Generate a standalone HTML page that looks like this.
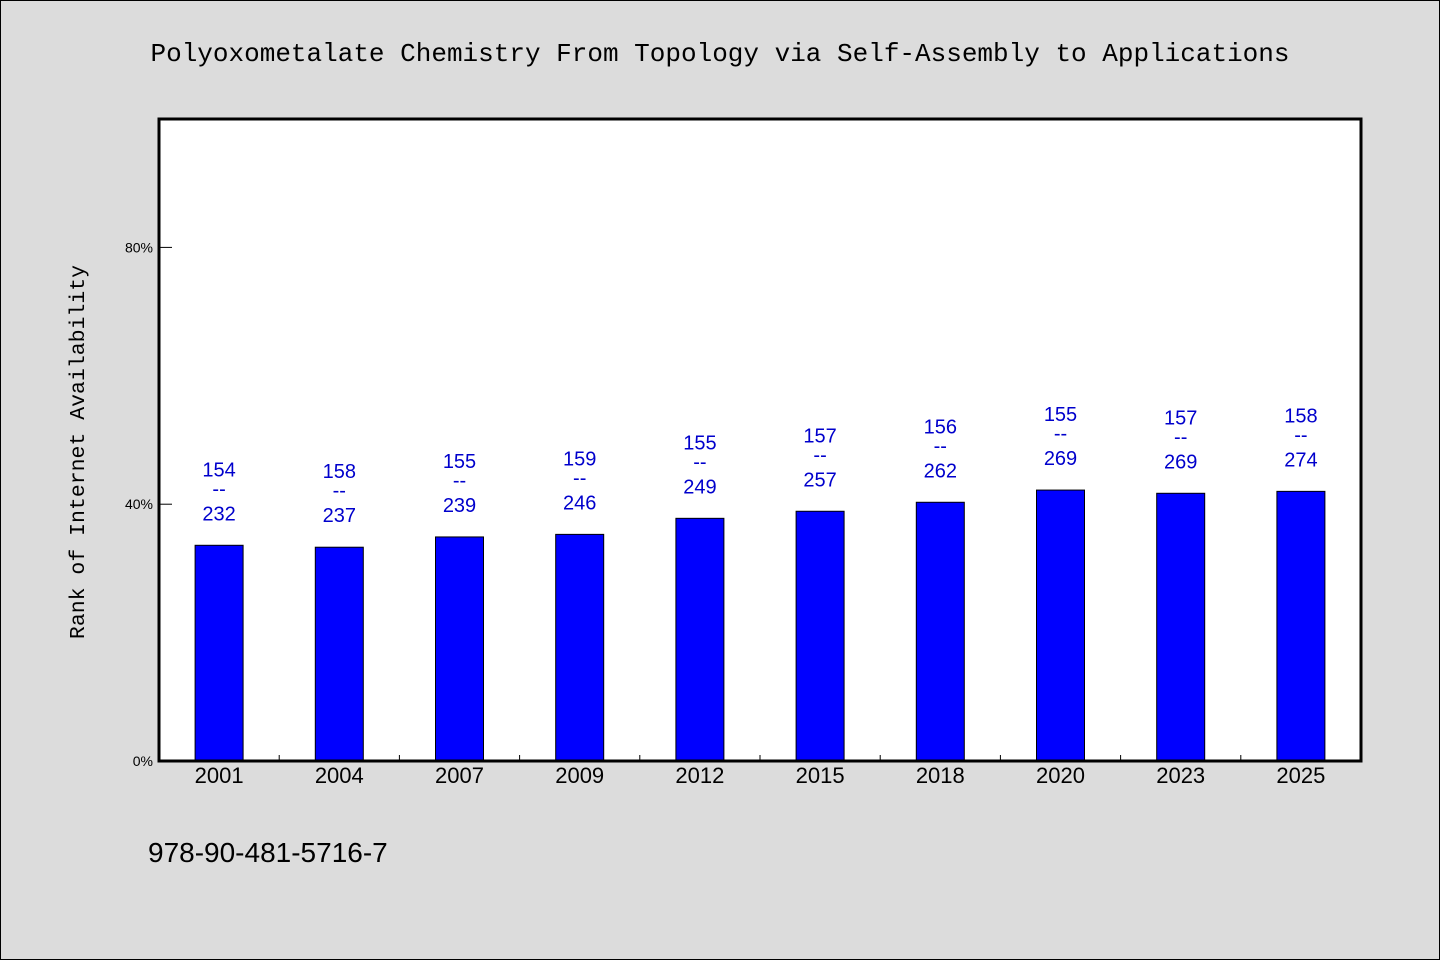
<!DOCTYPE html>
<html><head><meta charset="utf-8"><style>
body{margin:0;background:#dcdcdc;}
svg{display:block;font-family:"Liberation Sans","WenQuanYi Zen Hei",sans-serif;}
</style></head><body>
<svg width="1440" height="960" viewBox="0 0 1440 960">
<rect x="0.5" y="0.5" width="1439" height="959" fill="#dcdcdc" stroke="#000"/>
<text x="720" y="61" text-anchor="middle" font-family="Liberation Mono, monospace" font-size="26" fill="#000">Polyoxometalate Chemistry From Topology via Self-Assembly to Applications</text>
<rect x="159" y="119" width="1202" height="642" fill="#fff"/>
<g id="ticks"></g>
<g id="bars"></g>
<rect x="159" y="119" width="1202" height="642" fill="none" stroke="#000" stroke-width="3"/>
<text transform="translate(84,452) rotate(-90)" text-anchor="middle" font-family="Liberation Mono, monospace" font-size="21.5" fill="#000">Rank of Internet Availability</text>
<text x="148" y="862" font-size="28" fill="#000">978-90-481-5716-7</text>
</svg>
<script>
const categories=["2001","2004","2007","2009","2012","2015","2018","2020","2023","2025"];
const values=[33.6,33.3,34.9,35.3,37.8,38.9,40.3,42.2,41.7,42.0];
const topLabels=["154","158","155","159","155","157","156","155","157","158"];
const bottomLabels=["232","237","239","246","249","257","262","269","269","274"];
const yTicks=[0,40,80];
const NS="http://www.w3.org/2000/svg";
const x0=159,x1=1361,y0=761,yTop=119,yMax=100;
const band=(x1-x0)/categories.length;
function xc(i){return x0+band*(i+0.5);}
function ys(v){return y0-(v/yMax)*(y0-yTop);}
function mk(tag,attrs,parent){const e=document.createElementNS(NS,tag);for(const k in attrs)e.setAttribute(k,attrs[k]);parent.appendChild(e);return e;}
const tg=document.getElementById('ticks'),bg=document.getElementById('bars');
yTicks.forEach(t=>{
  const y=ys(t);
  if(t>0){const l=mk('line',{x1:x0,x2:x0+13,y1:y,y2:y,stroke:'#000','stroke-width':1},tg);
  
  }
  const tx=mk('text',{x:x0-6,y:y+5,'text-anchor':'end','font-size':14,fill:'#000'},tg);
  tx.textContent=t+'%';
  
  
});
categories.forEach((c,i)=>{
  if(i>0){const l=mk('line',{x1:x0+band*i,x2:x0+band*i,y1:y0,y2:y0-6,stroke:'#000','stroke-width':1},tg);
  
  }
  const cx=xc(i),yt=ys(values[i]);
  const r=mk('rect',{x:cx-24,y:yt,width:48,height:y0-yt,fill:'#0000ff',stroke:'#000','stroke-width':1},bg);
  
  
  const xl=mk('text',{x:cx,y:783,'text-anchor':'middle','font-size':22,fill:'#000'},bg);
  xl.textContent=c;
  
  
  const t1=mk('text',{x:cx,y:yt-69,'text-anchor':'middle','font-size':20,fill:'#0000cc'},bg);
  t1.textContent=topLabels[i];
  
  
  const t2=mk('text',{x:cx,y:yt-50,'text-anchor':'middle','font-size':20,fill:'#0000cc'},bg);
  t2.textContent='--';
  
  
  const t3=mk('text',{x:cx,y:yt-25,'text-anchor':'middle','font-size':20,fill:'#0000cc'},bg);
  t3.textContent=bottomLabels[i];
  
  
});
</script>
</body></html>
